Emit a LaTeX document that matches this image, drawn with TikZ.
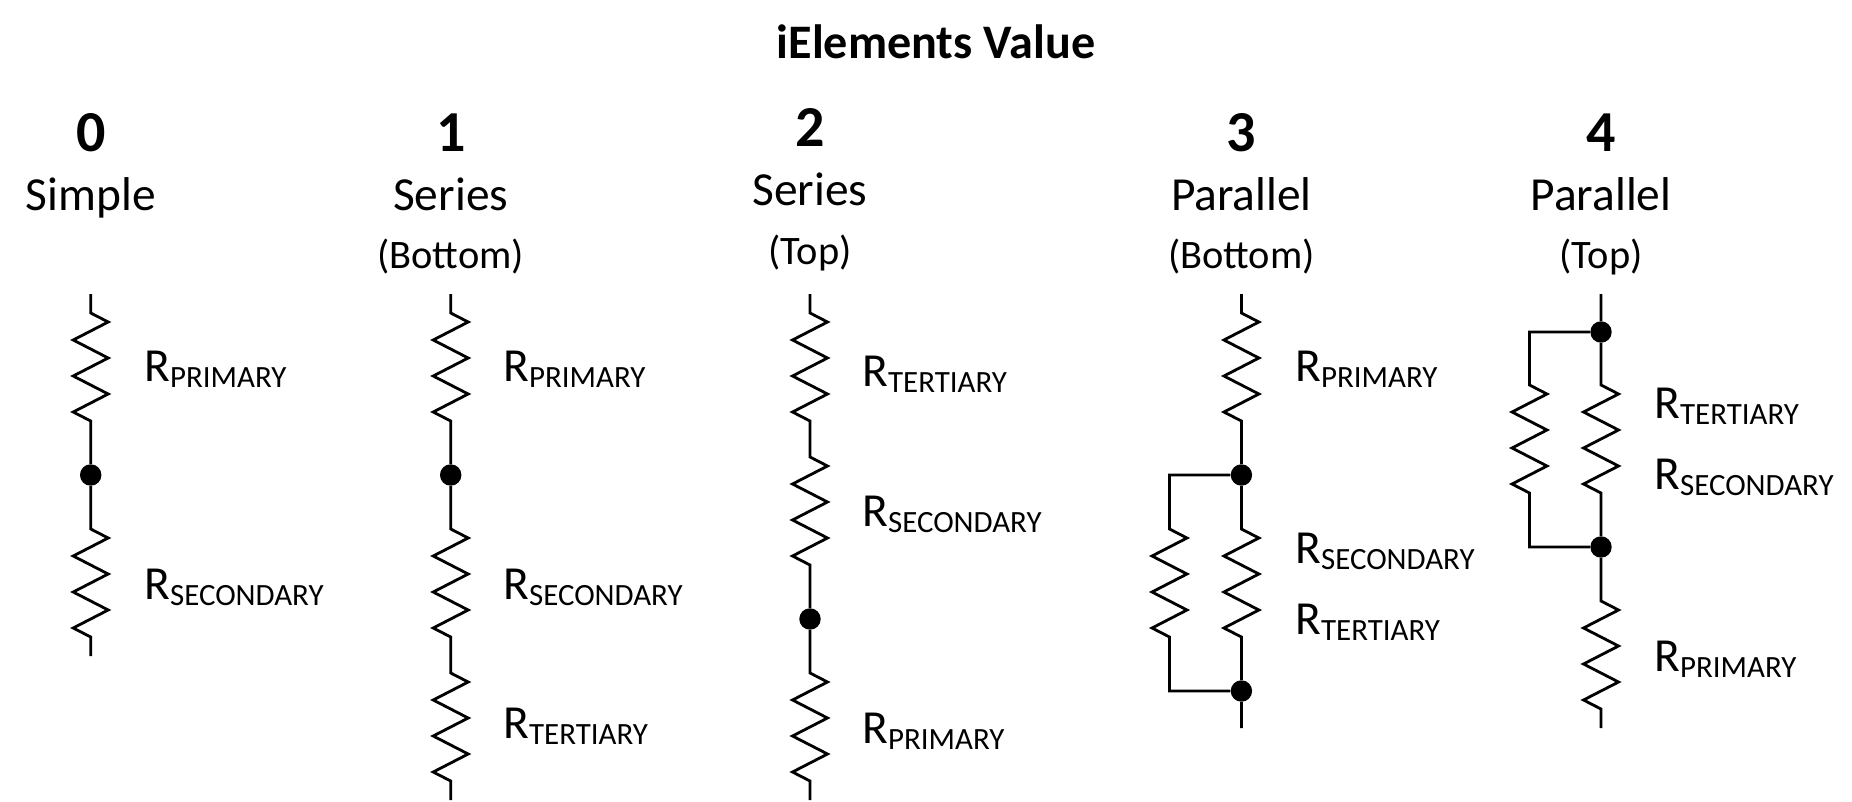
\documentclass[tikz,border=0pt]{standalone}
\usepackage{fontspec}
\setmainfont{Carlito}
\usepackage{tikz}

\newcommand{\Rsub}[1]{R{\fontsize{17.6}{17.6}\selectfont\raisebox{-3.4pt}{#1}}}

\tikzset{
  wire/.style={line width=1.6pt, line join=miter},
  res/.style={to path={-- ++(17.5,9) -- ++(-35,18) -- ++(35,18) -- ++(-35,18) -- ++(35,18) -- ++(-35,18) -- (\tikztotarget)}},
  junction/.style={circle, fill=black, inner sep=0pt, minimum size=12.2pt},
  numlabel/.style={anchor=base, inner sep=0pt, yshift=-1pt, font=\fontsize{33}{33}\selectfont\bfseries},
  namelabel/.style={anchor=base, inner sep=0pt, yshift=-0.5pt, font=\fontsize{27}{27}\selectfont},
  sublabel/.style={anchor=base, inner sep=0pt, yshift=-0.6pt, font=\fontsize{23}{23}\selectfont},
  rlabel/.style={anchor=base west, inner sep=0pt, yshift=-1.1pt, font=\fontsize{27}{27}\selectfont}
}

\begin{document}
\begin{tikzpicture}[x=0.02cm, y=-0.02cm]
\useasboundingbox (0,0) rectangle (1852,801);

% Define column positions
\def\cola{90.7}
\def\colb{450.7}
\def\colc{810}
\def\cold{1241.4}
\def\cole{1601}
\def\sided{1169.5}
\def\sidee{1529.5}

% Title
\node[anchor=base, inner sep=0pt, font=\fontsize{27.4}{27.4}\selectfont\bfseries] (title) at (936, 58) {iElements Value};

% Column headings
\node[numlabel] (num0) at (\cola, 150) {0};
\node[numlabel] (num1) at (\colb, 150) {1};
\node[numlabel] (num2) at (\colc, 145) {2};
\node[numlabel] (num3) at (\cold, 150) {3};
\node[numlabel] (num4) at (\cole, 150) {4};
\node[namelabel] (name0) at (\cola, 210) {Simple};
\node[namelabel] (name1) at (\colb, 210) {Series};
\node[namelabel] (name2) at (\colc, 205) {Series};
\node[namelabel] (name3) at (\cold, 210) {Parallel};
\node[namelabel] (name4) at (\cole, 210) {Parallel};
\node[sublabel] (pos1) at (\colb, 267) {(Bottom)};
\node[sublabel] (pos2) at (\colc, 263) {(Top)};
\node[sublabel] (pos3) at (\cold, 267) {(Bottom)};
\node[sublabel] (pos4) at (\cole, 267) {(Top)};

% Column 0 - simple
\coordinate (top0) at (\cola, 294);
\coordinate (a0) at (\cola, 313);
\coordinate (b0) at (\cola, 421);
\node[junction] (dot0) at (\cola, 475) {};
\coordinate (c0) at (\cola, 529);
\coordinate (d0) at (\cola, 637);
\coordinate (end0) at (\cola, 656);
\draw[wire] (top0) -- (a0) to[res] (b0) -- (dot0) -- (c0) to[res] (d0) -- (end0);
\node[rlabel] (rp0) at (144, 380) {\Rsub{PRIMARY}};
\node[rlabel] (rs0) at (144, 598) {\Rsub{SECONDARY}};

% Column 1 - series bottom
\coordinate (top1) at (\colb, 294);
\coordinate (a1) at (\colb, 313);
\coordinate (b1) at (\colb, 421);
\node[junction] (dot1) at (\colb, 475) {};
\coordinate (c1) at (\colb, 529);
\coordinate (d1) at (\colb, 637);
\coordinate (e1) at (\colb, 673);
\coordinate (f1) at (\colb, 781);
\coordinate (end1) at (\colb, 800);
\draw[wire] (top1) -- (a1) to[res] (b1) -- (dot1) -- (c1) to[res] (d1) -- (e1) to[res] (f1) -- (end1);
\node[rlabel] (rp1) at (503, 380) {\Rsub{PRIMARY}};
\node[rlabel] (rs1) at (503, 598) {\Rsub{SECONDARY}};
\node[rlabel] (rt1) at (503, 737) {\Rsub{TERTIARY}};

% Column 2 - series top
\coordinate (top2) at (\colc, 294);
\coordinate (a2) at (\colc, 313);
\coordinate (b2) at (\colc, 421);
\coordinate (c2) at (\colc, 457);
\coordinate (d2) at (\colc, 565);
\node[junction] (dot2) at (\colc, 619) {};
\coordinate (e2) at (\colc, 673);
\coordinate (f2) at (\colc, 781);
\coordinate (end2) at (\colc, 800);
\draw[wire] (top2) -- (a2) to[res] (b2) -- (c2) to[res] (d2) -- (dot2) -- (e2) to[res] (f2) -- (end2);
\node[rlabel] (rt2) at (862, 385) {\Rsub{TERTIARY}};
\node[rlabel] (rs2) at (862, 525) {\Rsub{SECONDARY}};
\node[rlabel] (rp2) at (862, 742) {\Rsub{PRIMARY}};

% Column 3 - parallel bottom
\coordinate (top3) at (\cold, 294);
\coordinate (a3) at (\cold, 313);
\coordinate (b3) at (\cold, 421);
\node[junction] (dot3a) at (\cold, 475) {};
\coordinate (c3) at (\cold, 529);
\coordinate (d3) at (\cold, 637);
\node[junction] (dot3b) at (\cold, 691) {};
\coordinate (end3) at (\cold, 728);
\coordinate (sa3) at (\sided, 475);
\coordinate (sb3) at (\sided, 529);
\coordinate (sc3) at (\sided, 637);
\coordinate (sd3) at (\sided, 691);
\draw[wire] (top3) -- (a3) to[res] (b3) -- (dot3a) -- (c3) to[res] (d3) -- (dot3b) -- (end3);
\draw[wire] (dot3a) -- (sa3) -- (sb3) to[res] (sc3) -- (sd3) -- (dot3b);
\node[rlabel] (rp3) at (1295, 380) {\Rsub{PRIMARY}};
\node[rlabel] (rs3) at (1295, 562) {\Rsub{SECONDARY}};
\node[rlabel] (rt3) at (1295, 633) {\Rsub{TERTIARY}};

% Column 4 - parallel top
\coordinate (top4) at (\cole, 294);
\node[junction] (dot4a) at (\cole, 332) {};
\coordinate (a4) at (\cole, 385);
\coordinate (b4) at (\cole, 493);
\node[junction] (dot4b) at (\cole, 547) {};
\coordinate (c4) at (\cole, 601);
\coordinate (d4) at (\cole, 709);
\coordinate (end4) at (\cole, 728);
\coordinate (sa4) at (\sidee, 332);
\coordinate (sb4) at (\sidee, 385);
\coordinate (sc4) at (\sidee, 493);
\coordinate (sd4) at (\sidee, 547);
\draw[wire] (top4) -- (dot4a) -- (a4) to[res] (b4) -- (dot4b) -- (c4) to[res] (d4) -- (end4);
\draw[wire] (dot4a) -- (sa4) -- (sb4) to[res] (sc4) -- (sd4) -- (dot4b);
\node[rlabel] (rt4) at (1654, 417) {\Rsub{TERTIARY}};
\node[rlabel] (rs4) at (1654, 488) {\Rsub{SECONDARY}};
\node[rlabel] (rp4) at (1654, 670) {\Rsub{PRIMARY}};

\end{tikzpicture}
\end{document}
